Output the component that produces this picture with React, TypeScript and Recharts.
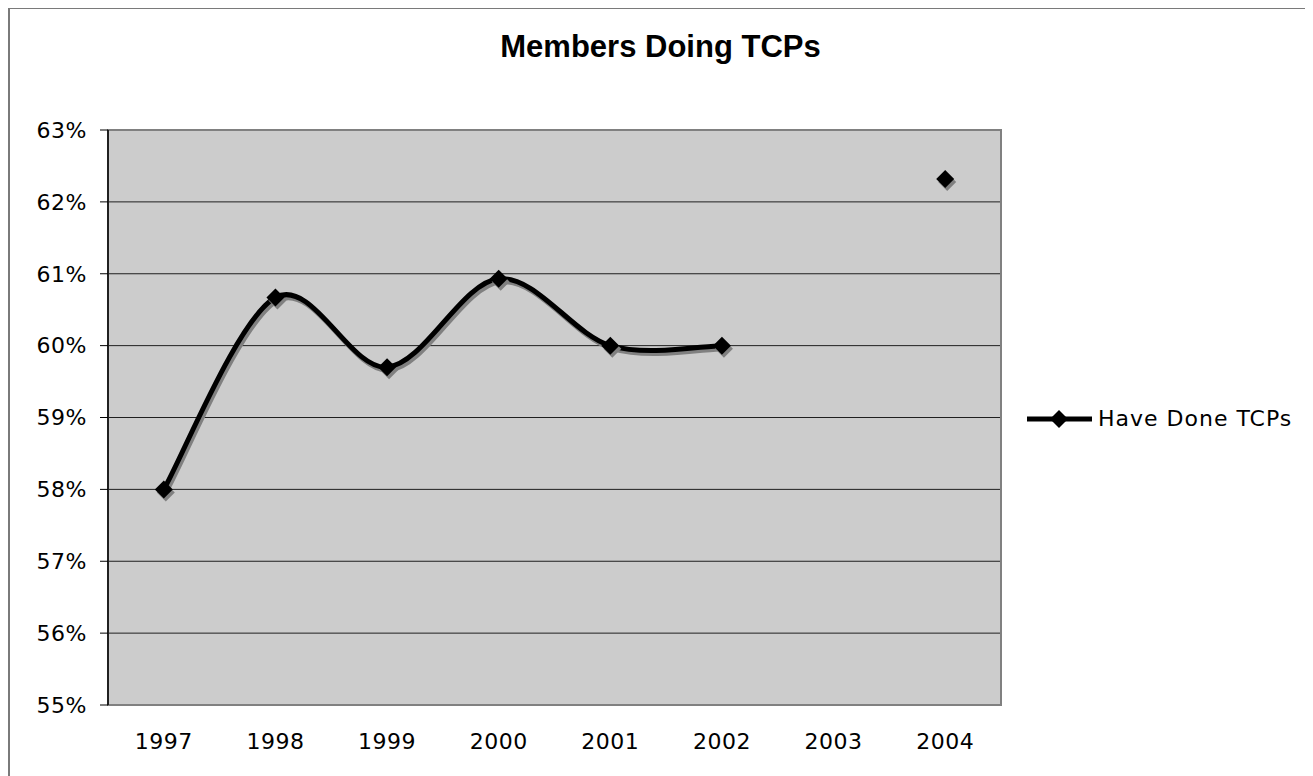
import React from 'react';
import { LineChart, Line, XAxis, YAxis, CartesianGrid, Legend, ReferenceArea } from 'recharts';

const years = ['1997', '1998', '1999', '2000', '2001', '2002', '2003', '2004'];
const haveDoneTCPs: (number | null)[] = [58.0, 60.67, 59.7, 60.93, 60.0, 60.0, null, 62.32];
const yTicks = [55, 56, 57, 58, 59, 60, 61, 62, 63];
const gridValues = [56, 57, 58, 59, 60, 61, 62];
const bandEdges = [0, 1, 2, 3, 4, 5, 6, 7, 8];
const bandCenters = years.map((_, i) => i + 0.5);

const data = years.map((y, i) => ({ x: i + 0.5, year: y, v: haveDoneTCPs[i] }));

const FONT = '"DejaVu Sans", Verdana, sans-serif';

// Excel-like smoothed line (Catmull-Rom style bezier)
const excelCurve = (context: any) => {
  let pts: [number, number][] = [];
  return {
    areaStart() {},
    areaEnd() {},
    lineStart() {
      pts = [];
    },
    point(x: number, y: number) {
      pts.push([+x, +y]);
    },
    lineEnd() {
      const n = pts.length;
      if (!n) return;
      context.moveTo(pts[0][0], pts[0][1]);
      for (let i = 0; i < n - 1; i++) {
        const p0 = pts[i - 1] || pts[i];
        const p1 = pts[i];
        const p2 = pts[i + 1];
        const p3 = pts[i + 2] || p2;
        context.bezierCurveTo(
          p1[0] + (p2[0] - p0[0]) / 6,
          p1[1] + (p2[1] - p0[1]) / 6,
          p2[0] - (p3[0] - p1[0]) / 6,
          p2[1] - (p3[1] - p1[1]) / 6,
          p2[0],
          p2[1]
        );
      }
    },
  };
};

const diamondPts = (cx: number, cy: number, r: number) =>
  `${cx},${cy - r} ${cx + r},${cy} ${cx},${cy + r} ${cx - r},${cy}`;

const Diamond = (props: any) => {
  const { cx, cy, payload } = props;
  if (cx == null || cy == null || payload?.v == null) return <g />;
  const r = 9;
  return (
    <g>
      <polygon points={diamondPts(cx + 2, cy + 3, r)} fill="#808080" stroke="none" />
      <polygon points={diamondPts(cx, cy, r)} fill="#000" stroke="none" />
    </g>
  );
};

const LegendContent = () => (
  <div style={{ display: 'flex', alignItems: 'center', fontFamily: FONT, fontSize: 22, letterSpacing: 1, color: '#000' }}>
    <svg width={65} height={22} style={{ marginRight: 6 }}>
      <line x1={0} y1={11} x2={65} y2={11} stroke="#000" strokeWidth={5} />
      <polygon points={diamondPts(32, 11, 9)} fill="#000" />
    </svg>
    <span>Have Done TCPs</span>
  </div>
);

export default function App() {
  return (
    <div
      style={{
        position: 'relative',
        width: 1301,
        height: 770,
        border: '2px solid #7a7a7a',
        marginTop: -1,
        background: '#fff',
      }}
    >
      <style>{`.tcpShadow { filter: drop-shadow(2px 3px 0px #808080); }`}</style>
      <div
        style={{
          position: 'absolute',
          left: 0,
          top: 20,
          width: '100%',
          textAlign: 'center',
          fontFamily: '"Liberation Sans", Arial, sans-serif',
          fontWeight: 'bold',
          fontSize: 31,
          lineHeight: '36px',
          color: '#000',
          zIndex: 2,
        }}
      >
        Members Doing TCPs
      </div>
      <LineChart width={1301} height={768} data={data} margin={{ top: 121, right: 310, bottom: 22, left: 8 }}>
        <CartesianGrid
          vertical={false}
          horizontalValues={gridValues}
          stroke="#000"
          strokeOpacity={0.85}
          fill="#CCCCCC"
          fillOpacity={1}
        />
        <ReferenceArea x1={0} x2={8} y1={55} y2={63} fill="none" stroke="#808080" strokeWidth={2} ifOverflow="visible" />
        <XAxis
          xAxisId="m"
          dataKey="x"
          type="number"
          domain={[0, 8]}
          ticks={bandEdges}
          tick={false}
          tickSize={7}
          height={0}
          axisLine={{ stroke: '#000', strokeWidth: 1.5 }}
          tickLine={{ stroke: '#000' }}
          allowDataOverflow
        />
        <XAxis
          dataKey="x"
          type="number"
          domain={[0, 8]}
          ticks={bandCenters}
          tickFormatter={(v: number) => years[Math.round(v - 0.5)]}
          tickLine={false}
          axisLine={false}
          tickSize={8}
          tickMargin={20}
          height={50}
          interval={0}
          tick={{ fill: '#000', fontFamily: FONT, fontSize: 22, letterSpacing: 0.5 }}
          allowDataOverflow
        />
        <YAxis
          domain={[55, 63]}
          ticks={yTicks}
          interval={0}
          width={90}
          tickFormatter={(v: number) => `${v}%`}
          tickSize={8}
          tickMargin={13}
          axisLine={{ stroke: '#000', strokeWidth: 1.5 }}
          tickLine={{ stroke: '#000' }}
          tick={{ fill: '#000', fontFamily: FONT, fontSize: 22, letterSpacing: 0.5 }}
          allowDataOverflow
        />
        <Legend
          layout="vertical"
          align="center"
          verticalAlign="middle"
          content={<LegendContent />}
          wrapperStyle={{ position: 'absolute', left: 1017, top: 397, width: 290 }}
        />
        <Line
          className="tcpShadow"
          dataKey="v"
          type={excelCurve as any}
          stroke="#000"
          strokeWidth={5}
          dot={<Diamond />}
          activeDot={false}
          connectNulls={false}
          isAnimationActive={false}
          legendType="diamond"
        />
      </LineChart>
    </div>
  );
}
